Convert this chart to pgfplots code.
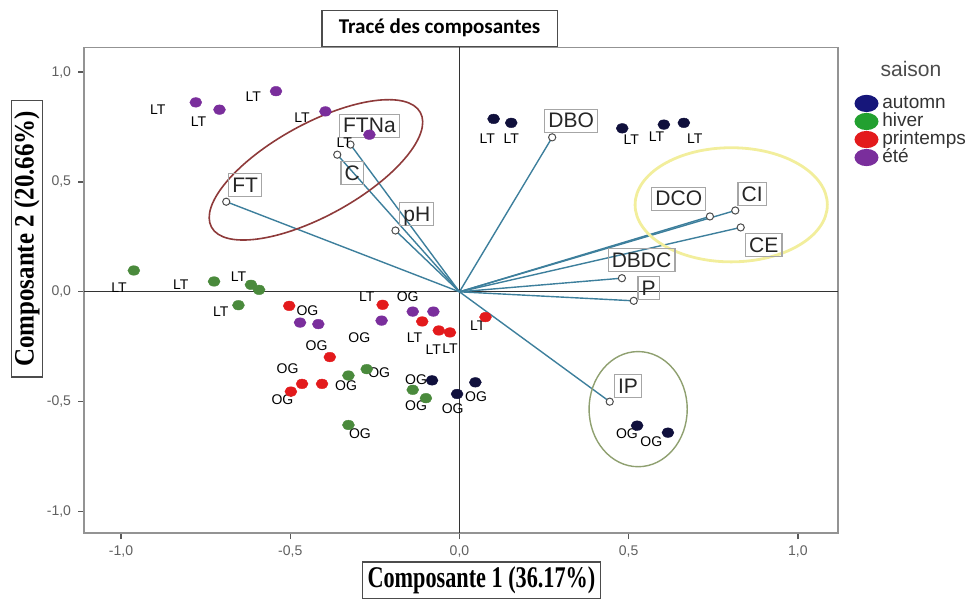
\documentclass[border=0pt]{standalone}
\usepackage{fontspec}
\setmainfont{Liberation Sans}
\newfontfamily\serifbf{Liberation Serif}
\newfontfamily\calib{Carlito}
\usepackage{graphicx}
\usepackage{pgfplots}
\pgfplotsset{compat=1.18}
\usetikzlibrary{calc,shapes.geometric}

\definecolor{cAut}{HTML}{10103C}
\definecolor{cAutL}{HTML}{16167A}
\definecolor{cHiv}{HTML}{4A8A3C}
\definecolor{cHivL}{HTML}{22A030}
\definecolor{cPri}{HTML}{E31A1C}
\definecolor{cEte}{HTML}{7A2E9C}
\definecolor{cVec}{HTML}{3D7F9C}
\definecolor{cBrown}{HTML}{8E3A3A}
\definecolor{cYel}{HTML}{F2EE9C}
\definecolor{cGrn}{HTML}{8FA070}

\pgfplotstableread[row sep=\\]{
x y lab\\
-0.689 0.410 FT\\
-0.322 0.670 FTNa\\
-0.361 0.624 C\\
-0.189 0.279 pH\\
0.274 0.703 DBO\\
0.740 0.343 DCO\\
0.815 0.370 CI\\
0.831 0.293 CE\\
0.480 0.062 DBDC\\
0.515 -0.041 P\\
0.444 -0.500 IP\\
}\loadings

\pgfplotstableread[row sep=\\]{
x y lab\\
-0.633 0.487 FT\\
-0.266 0.756 FTNa\\
-0.317 0.542 C\\
-0.126 0.355 pH\\
0.330 0.779 DBO\\
0.648 0.424 DCO\\
0.865 0.446 CI\\
0.899 0.214 CE\\
0.538 0.146 DBDC\\
0.559 0.018 P\\
0.498 -0.428 IP\\
}\varlabels

\pgfplotstableread[row sep=\\]{
x y lab\\
-0.891 0.829 LT\\
-0.771 0.776 LT\\
-0.609 0.890 LT\\
-0.465 0.791 LT\\
-0.340 0.679 LT\\
-1.006 0.021 LT\\
-0.823 0.032 LT\\
-0.653 0.070 LT\\
-0.705 -0.090 LT\\
-0.274 -0.021 LT\\
-0.133 -0.211 LT\\
-0.077 -0.264 LT\\
-0.028 -0.261 LT\\
0.054 -0.155 LT\\
0.082 0.696 LT\\
0.153 0.696 LT\\
0.508 0.692 LT\\
0.582 0.705 LT\\
0.695 0.697 LT\\
-0.449 -0.085 OG\\
-0.153 -0.024 OG\\
-0.296 -0.211 OG\\
-0.422 -0.246 OG\\
-0.508 -0.348 OG\\
-0.237 -0.370 OG\\
-0.335 -0.428 OG\\
-0.523 -0.492 OG\\
-0.128 -0.401 OG\\
-0.128 -0.519 OG\\
-0.020 -0.530 OG\\
0.049 -0.477 OG\\
-0.294 -0.644 OG\\
0.495 -0.647 OG\\
0.567 -0.682 OG\\
}\obslabels

\pgfplotstableread[row sep=\\]{
x y\\
-0.779 0.862\\
-0.709 0.829\\
-0.542 0.913\\
-0.396 0.821\\
-0.266 0.715\\
-0.471 -0.140\\
-0.417 -0.147\\
-0.230 -0.131\\
-0.138 -0.090\\
-0.077 -0.090\\
}\ete

\pgfplotstableread[row sep=\\]{
x y\\
-0.962 0.097\\
-0.725 0.047\\
-0.616 0.032\\
-0.592 0.009\\
-0.653 -0.061\\
-0.328 -0.381\\
-0.274 -0.352\\
-0.138 -0.446\\
-0.099 -0.484\\
-0.328 -0.606\\
}\hiver

\pgfplotstableread[row sep=\\]{
x y\\
-0.503 -0.064\\
-0.227 -0.059\\
-0.110 -0.135\\
-0.061 -0.176\\
-0.028 -0.185\\
0.077 -0.115\\
-0.383 -0.297\\
-0.465 -0.419\\
-0.406 -0.419\\
-0.498 -0.454\\
}\printemps

\pgfplotstableread[row sep=\\]{
x y\\
0.101 0.787\\
0.153 0.769\\
0.481 0.744\\
0.604 0.761\\
0.663 0.769\\
-0.081 -0.403\\
-0.007 -0.465\\
0.047 -0.412\\
0.525 -0.609\\
0.616 -0.641\\
}\automn

\begin{document}
\begin{tikzpicture}
\begin{axis}[
  scale only axis, width=376.4pt, height=242.5pt,
  xmin=-1.109, xmax=1.118, ymin=-1.098, ymax=1.112,
  clip=false,
  axis line style={draw=gray!85, line width=0.8pt},
  xtick={-1,-0.5,0,0.5,1}, ytick={-1,-0.5,0,0.5,1},
  xtick pos=bottom, ytick pos=left, tick align=outside, major tick length=3pt,
  tick style={draw=gray!70!black, line width=0.6pt},
  /pgf/number format/fixed, /pgf/number format/fixed zerofill,
  /pgf/number format/precision=1, /pgf/number format/use comma,
  /pgf/number format/assume math mode=true,
  ticklabel style={font=\fontsize{7}{8}\selectfont, text=gray!75!black},
  legend style={at={(axis cs:1.166,0.900)}, anchor=north west, draw=none, fill=none,
    inner sep=0pt, font=\fontsize{9.5}{9}\selectfont, text=black!80,
    nodes={inner sep=0.4pt, text height=6.6pt, text depth=1.6pt},
    column sep=1.5pt, row sep=0pt},
  legend cell align=left,
  legend image code/.code={\fill[#1] (0.5pt,0pt) ellipse [x radius=6pt, y radius=4.3pt];},
]
% zero lines
\draw[gray!40!black, line width=0.6pt] (axis cs:-1.109,0) -- (axis cs:1.118,0);
\draw[gray!40!black, line width=0.6pt] (axis cs:0,-1.098) -- (axis cs:0,1.112);

% loading vectors
\addplot[cVec, line width=0.7pt, forget plot] coordinates {(0,0) (-0.689,0.410)};
\addplot[cVec, line width=0.7pt, forget plot] coordinates {(0,0) (-0.322,0.670)};
\addplot[cVec, line width=0.7pt, forget plot] coordinates {(0,0) (-0.361,0.624)};
\addplot[cVec, line width=0.7pt, forget plot] coordinates {(0,0) (-0.189,0.279)};
\addplot[cVec, line width=0.7pt, forget plot] coordinates {(0,0) (0.274,0.703)};
\addplot[cVec, line width=0.7pt, forget plot] coordinates {(0,0) (0.740,0.343)};
\addplot[cVec, line width=0.7pt, forget plot] coordinates {(0,0) (0.815,0.370)};
\addplot[cVec, line width=0.7pt, forget plot] coordinates {(0,0) (0.831,0.293)};
\addplot[cVec, line width=0.7pt, forget plot] coordinates {(0,0) (0.480,0.062)};
\addplot[cVec, line width=0.7pt, forget plot] coordinates {(0,0) (0.515,-0.041)};
\addplot[cVec, line width=0.7pt, forget plot] coordinates {(0,0) (0.444,-0.500)};

% endpoints
\addplot[only marks, mark=*, mark size=1.8pt,
  mark options={draw=gray!60!black, fill=white, line width=0.5pt}, forget plot]
  table[x=x, y=y] {\loadings};

% variable label boxes
\addplot[only marks, mark=*, mark size=0pt, mark options={draw=none, fill=none},
  nodes near coords, point meta=explicit symbolic, nodes near coords align=center,
  every node near coord/.append style={anchor=center, draw=gray!70, line width=0.6pt,
    font=\fontsize{10.5}{12}\selectfont, text=black!85, inner sep=1.8pt,
    text height=7.6pt, text depth=0.3pt}, forget plot]
  table[x=x, y=y, meta=lab] {\varlabels};

% observation labels
\addplot[only marks, mark=*, mark size=0pt, mark options={draw=none, fill=none},
  nodes near coords, point meta=explicit symbolic, nodes near coords align=center,
  every node near coord/.append style={anchor=center, font=\fontsize{7}{8}\selectfont,
    text=black, inner sep=0pt}, forget plot]
  table[x=x, y=y, meta=lab] {\obslabels};

% observations
\addplot[only marks, mark=*, mark size=2.4pt, mark options={xscale=1.25, fill=cEte, draw=cEte, line width=0.2pt}, forget plot] table[x=x,y=y] {\ete};
\addplot[only marks, mark=*, mark size=2.4pt, mark options={xscale=1.25, fill=cHiv, draw=cHiv, line width=0.2pt}, forget plot] table[x=x,y=y] {\hiver};
\addplot[only marks, mark=*, mark size=2.4pt, mark options={xscale=1.25, fill=cPri, draw=cPri, line width=0.2pt}, forget plot] table[x=x,y=y] {\printemps};
\addplot[only marks, mark=*, mark size=2.4pt, mark options={xscale=1.25, fill=cAut, draw=cAut, line width=0.2pt}, forget plot] table[x=x,y=y] {\automn};

% ellipses
\node[draw=cBrown, line width=0.8pt, ellipse, minimum width=119pt, minimum height=46pt,
  inner sep=0pt, rotate=28.8] at (axis cs:-0.424,0.555) {};
\node[draw=cYel, line width=1.4pt, ellipse, minimum width=96pt, minimum height=57pt,
  inner sep=0pt] at (axis cs:0.803,0.396) {};
\node[draw=cGrn, line width=0.7pt, ellipse, minimum width=49pt, minimum height=57.5pt,
  inner sep=0pt] at (axis cs:0.528,-0.534) {};

% legend
\addlegendimage{fill=cAutL, draw=none}
\addlegendentry{automn}
\addlegendimage{fill=cHivL, draw=none}
\addlegendentry{hiver}
\addlegendimage{fill=cPri, draw=none}
\addlegendentry{printemps}
\addlegendimage{fill=cEte, draw=none}
\addlegendentry{été}
\node[font=\fontsize{10.5}{12}\selectfont, text=black!70] at (axis cs:1.334,1.016) {saison};

% title
\node[draw=gray!60!black, line width=0.6pt, fill=white, minimum width=117.5pt,
  minimum height=18pt, inner sep=0pt, font=\calib\bfseries\fontsize{10.5}{12}\selectfont]
  at (axis cs:-0.0586,1.1995) {Tracé des composantes};

% axis labels
\node[draw=gray!60!black, line width=0.6pt, minimum width=119pt, minimum height=18pt, inner sep=0pt]
  at (axis cs:0.065,-1.312)
  {\scalebox{0.74}[1]{\serifbf\bfseries\fontsize{15}{16}\selectfont Composante 1 (36.17\%)}};
\node[draw=gray!60!black, line width=0.6pt, rotate=90, minimum width=138pt, minimum height=15.3pt, inner sep=0pt]
  at (axis cs:-1.278,0.241)
  {\scalebox{0.89}[1]{\serifbf\bfseries\fontsize{14}{15}\selectfont Composante 2 (20.66\%)}};
\end{axis}
\pgfresetboundingbox
\path ($(current axis.south west)+(-42pt,-32.5pt)$) rectangle ($(current axis.north east)+(65.5pt,23.7pt)$);
\end{tikzpicture}
\end{document}
